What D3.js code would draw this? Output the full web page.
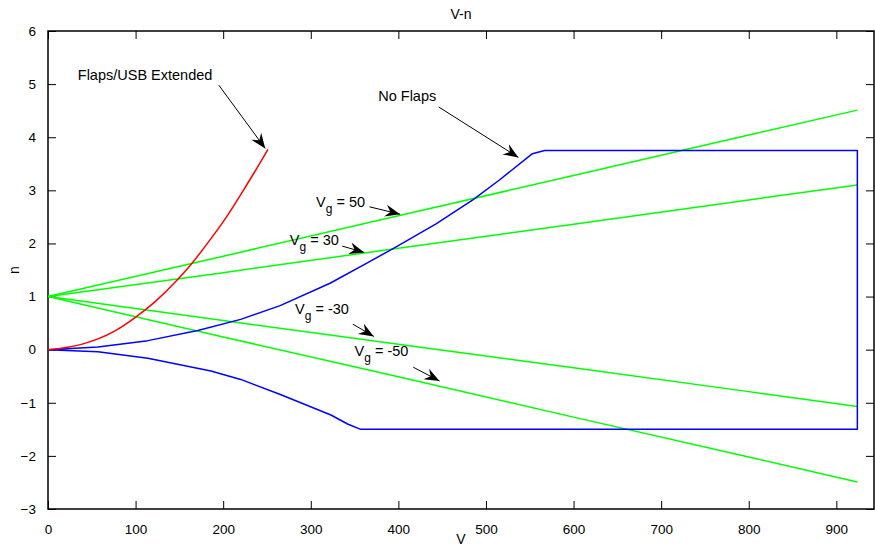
<!DOCTYPE html>
<html>
<head>
<meta charset="utf-8">
<script src="https://cdn.jsdelivr.net/npm/d3@7"></script>
<style>
  body { margin: 0; background: #fff; }
  text { font-family: "Liberation Sans", Arial, sans-serif; fill: #000; }
</style>
</head>
<body>
<div id="chart"></div>
<script>
// V-n diagram data
var flapsV = [0, 38, 76, 99, 122, 148, 163, 186, 205, 220, 236, 251];
var flapsN = [0, 0.10, 0.35, 0.60, 0.90, 1.32, 1.60, 2.09, 2.53, 2.92, 3.35, 3.77];

var noFlapsV = [0, 57, 114, 171, 220, 265, 322, 363, 398, 443, 485, 515, 553, 567, 924, 924, 357, 342, 323, 266, 220, 186, 114, 57, 0];
var noFlapsN = [0, 0.05, 0.17, 0.36, 0.57, 0.83, 1.25, 1.62, 1.94, 2.37, 2.82, 3.19, 3.69, 3.75, 3.75, -1.5, -1.5, -1.40, -1.23, -0.85, -0.56, -0.40, -0.16, -0.04, 0];

var gustV = [0, 200, 400, 600, 800, 924];
var gust50 = [1, 1.76, 2.52, 3.28, 4.04, 4.51];
var gust30 = [1, 1.45, 1.91, 2.36, 2.82, 3.10];
var gustM30 = [1, 0.55, 0.10, -0.34, -0.79, -1.07];
var gustM50 = [1, 0.24, -0.51, -1.27, -2.02, -2.49];

var xTicks = [0, 100, 200, 300, 400, 500, 600, 700, 800, 900];
var yTicks = [-3, -2, -1, 0, 1, 2, 3, 4, 5, 6];

// labels: [text, subscript, rest, V, n, arrow from V, n, arrow to V, n]
var notes = [
  ["Flaps/USB Extended", "", "", 34, 5.07, 195, 4.98, 248, 3.79],
  ["No Flaps", "", "", 377, 4.68, 446, 4.57, 537, 3.62],
  ["V", "g", " = 50", 306, 2.69, 367, 2.69, 402, 2.55],
  ["V", "g", " = 30", 276, 1.97, 336, 1.95, 361, 1.83],
  ["V", "g", " = -30", 282, 0.67, 348, 0.48, 372, 0.25],
  ["V", "g", " = -50", 350, -0.12, 417, -0.33, 447, -0.59]
];

var svgWidth = 875;
var svgHeight = 547;
var margin = { top: 31, right: 1, bottom: 38, left: 48 };
var width = svgWidth - margin.left - margin.right;
var height = svgHeight - margin.top - margin.bottom;

var svg = d3.select("#chart")
  .append("svg")
  .attr("width", svgWidth)
  .attr("height", svgHeight);

var chartGroup = svg.append("g")
  .attr("transform", `translate(${margin.left}, ${margin.top})`);

var x = d3.scaleLinear().domain([0, 943]).range([0, width]);
var y = d3.scaleLinear().domain([-3, 6]).range([height, 0]);

// axes with inward ticks on all four sides
var tickLen = 8;
function styleAxis(g) {
  g.select(".domain").remove();
  g.selectAll("line").attr("stroke", "#000").attr("stroke-width", 1);
}

chartGroup.append("g")
  .attr("transform", `translate(0, ${height})`)
  .call(d3.axisBottom(x).tickValues(xTicks).tickSizeInner(-tickLen).tickSizeOuter(0).tickPadding(15))
  .call(styleAxis)
  .selectAll("text").attr("font-size", 13.5).attr("font-family", "Liberation Sans, Arial, sans-serif");

chartGroup.append("g")
  .call(d3.axisTop(x).tickValues(xTicks).tickSizeInner(-tickLen).tickSizeOuter(0).tickFormat(""))
  .call(styleAxis);

chartGroup.append("g")
  .call(d3.axisLeft(y).tickValues(yTicks).tickSizeInner(-tickLen).tickSizeOuter(0).tickPadding(12))
  .call(styleAxis)
  .selectAll("text").attr("font-size", 13.5).attr("font-family", "Liberation Sans, Arial, sans-serif");

chartGroup.append("g")
  .attr("transform", `translate(${width}, 0)`)
  .call(d3.axisRight(y).tickValues(yTicks).tickSizeInner(-tickLen).tickSizeOuter(0).tickFormat(""))
  .call(styleAxis);

// box
chartGroup.append("rect")
  .attr("width", width)
  .attr("height", height)
  .attr("fill", "none")
  .attr("stroke", "#000")
  .attr("stroke-width", 1.5);

// curves
var line = d3.line()
  .x(d => x(d[0]))
  .y(d => y(d[1]));

function drawSeries(vs, ns, color, curve) {
  chartGroup.append("path")
    .datum(d3.zip(vs, ns))
    .attr("d", line.curve(curve || d3.curveLinear))
    .attr("fill", "none")
    .attr("stroke", color)
    .attr("stroke-width", 1.5)
    .attr("stroke-linejoin", "round");
}

drawSeries(gustV, gust50, "#00ff00");
drawSeries(gustV, gust30, "#00ff00");
drawSeries(gustV, gustM30, "#00ff00");
drawSeries(gustV, gustM50, "#00ff00");
drawSeries(noFlapsV, noFlapsN, "#0000ff");
drawSeries(flapsV, flapsN, "#ff0000", d3.curveMonotoneX);

// arrowhead marker
svg.append("defs").append("marker")
  .attr("id", "head")
  .attr("viewBox", "-16 -7 17 14")
  .attr("refX", 0)
  .attr("refY", 0)
  .attr("markerWidth", 17)
  .attr("markerHeight", 14)
  .attr("markerUnits", "userSpaceOnUse")
  .attr("orient", "auto")
  .append("path")
  .attr("d", "M0,0 L-15,-6 L-10,0 L-15,6 Z")
  .attr("fill", "#000");

// annotations
notes.forEach(function(d) {
  var t = chartGroup.append("text")
    .attr("x", x(d[3]))
    .attr("y", y(d[4]))
    .attr("font-size", 14.5);
  t.append("tspan").text(d[0]);
  if (d[1]) {
    t.append("tspan").attr("font-size", 12).attr("dy", 6).text(d[1]);
    t.append("tspan").attr("dy", -6).text(d[2]);
  }
  chartGroup.append("line")
    .attr("x1", x(d[5])).attr("y1", y(d[6]))
    .attr("x2", x(d[7])).attr("y2", y(d[8]))
    .attr("stroke", "#000")
    .attr("stroke-width", 1)
    .attr("marker-end", "url(#head)");
});

// title and axis labels
svg.append("text")
  .attr("x", margin.left + width / 2)
  .attr("y", 19)
  .attr("text-anchor", "middle")
  .attr("font-size", 14)
  .text("V-n");

svg.append("text")
  .attr("x", margin.left + width / 2)
  .attr("y", 544)
  .attr("text-anchor", "middle")
  .attr("font-size", 14)
  .text("V");

svg.append("text")
  .attr("transform", `translate(19, ${margin.top + height / 2}) rotate(-90)`)
  .attr("text-anchor", "middle")
  .attr("font-size", 14)
  .text("n");
</script>
</body>
</html>
